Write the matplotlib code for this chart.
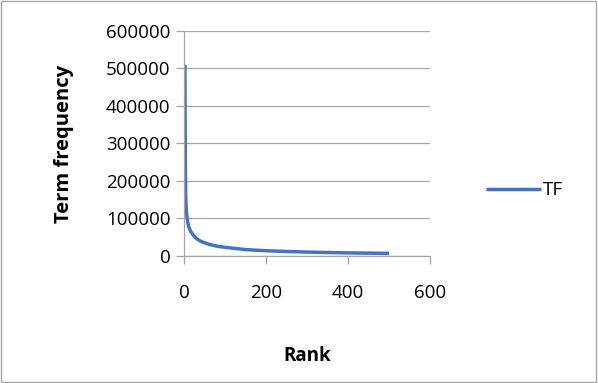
import matplotlib
matplotlib.use("Agg")
import matplotlib.pyplot as plt
from matplotlib.patches import Rectangle

# rank vs term frequency
ranks = [1, 2, 3, 4, 5, 6, 8, 10, 12, 15, 20, 25, 30, 40, 50, 60, 80, 100,
         150, 200, 250, 300, 350, 400, 450, 500]
tf = [510000, 250000, 160000, 130000, 115000, 105000, 90000, 80000, 73000,
      66000, 58000, 51000, 46000, 39000, 35000, 31000, 26000, 23000,
      17000, 14000, 12000, 10500, 9300, 8300, 7600, 7000]
xticks = [0, 200, 400, 600]
yticks = [0, 100000, 200000, 300000, 400000, 500000, 600000]

plt.rcParams['font.family'] = ['Open Sans', 'DejaVu Sans']
fs = 13.5

fig = plt.figure(figsize=(5.98, 3.83), dpi=100)
ax = fig.add_axes([0.3085, 0.3316, 0.4105, 0.5875])

grid_c = '#a6a6a6'
ax.plot(ranks, tf, color='#4472C4', lw=2.5, solid_capstyle='butt', label='TF')

ax.set_xlim(0, 600)
ax.set_ylim(0, 600000)
ax.set_xticks(xticks)
ax.set_yticks(yticks)
ax.set_xticklabels([str(v) for v in xticks], fontsize=fs)
ax.set_yticklabels([str(v) for v in yticks], fontsize=fs)
ax.grid(axis='y', color=grid_c, lw=0.9)
ax.set_axisbelow(True)
for s in ['top', 'right']:
    ax.spines[s].set_visible(False)
for s in ['left', 'bottom']:
    ax.spines[s].set_color(grid_c)
    ax.spines[s].set_linewidth(0.9)
ax.tick_params(axis='both', color=grid_c, length=6, width=0.9, direction='out')
ax.tick_params(axis='x', pad=14)
ax.tick_params(axis='y', pad=4)

ax.set_xlabel('Rank', fontsize=fs, fontweight='bold', labelpad=32)
ax.set_ylabel('Term frequency', fontsize=14.5, fontweight='bold', labelpad=23)

leg = ax.legend(loc='center left', bbox_to_anchor=(1.23, 0.293), frameon=False,
                fontsize=fs, handlelength=2.9, handletextpad=0.1,
                borderaxespad=0, borderpad=0)

# outer chart border
fig.patches.append(Rectangle((0.002, 0.003), 0.995, 0.994, transform=fig.transFigure,
                             fill=False, edgecolor='#a6a6a6', lw=1.0))

fig.savefig('out.png', dpi=100)
